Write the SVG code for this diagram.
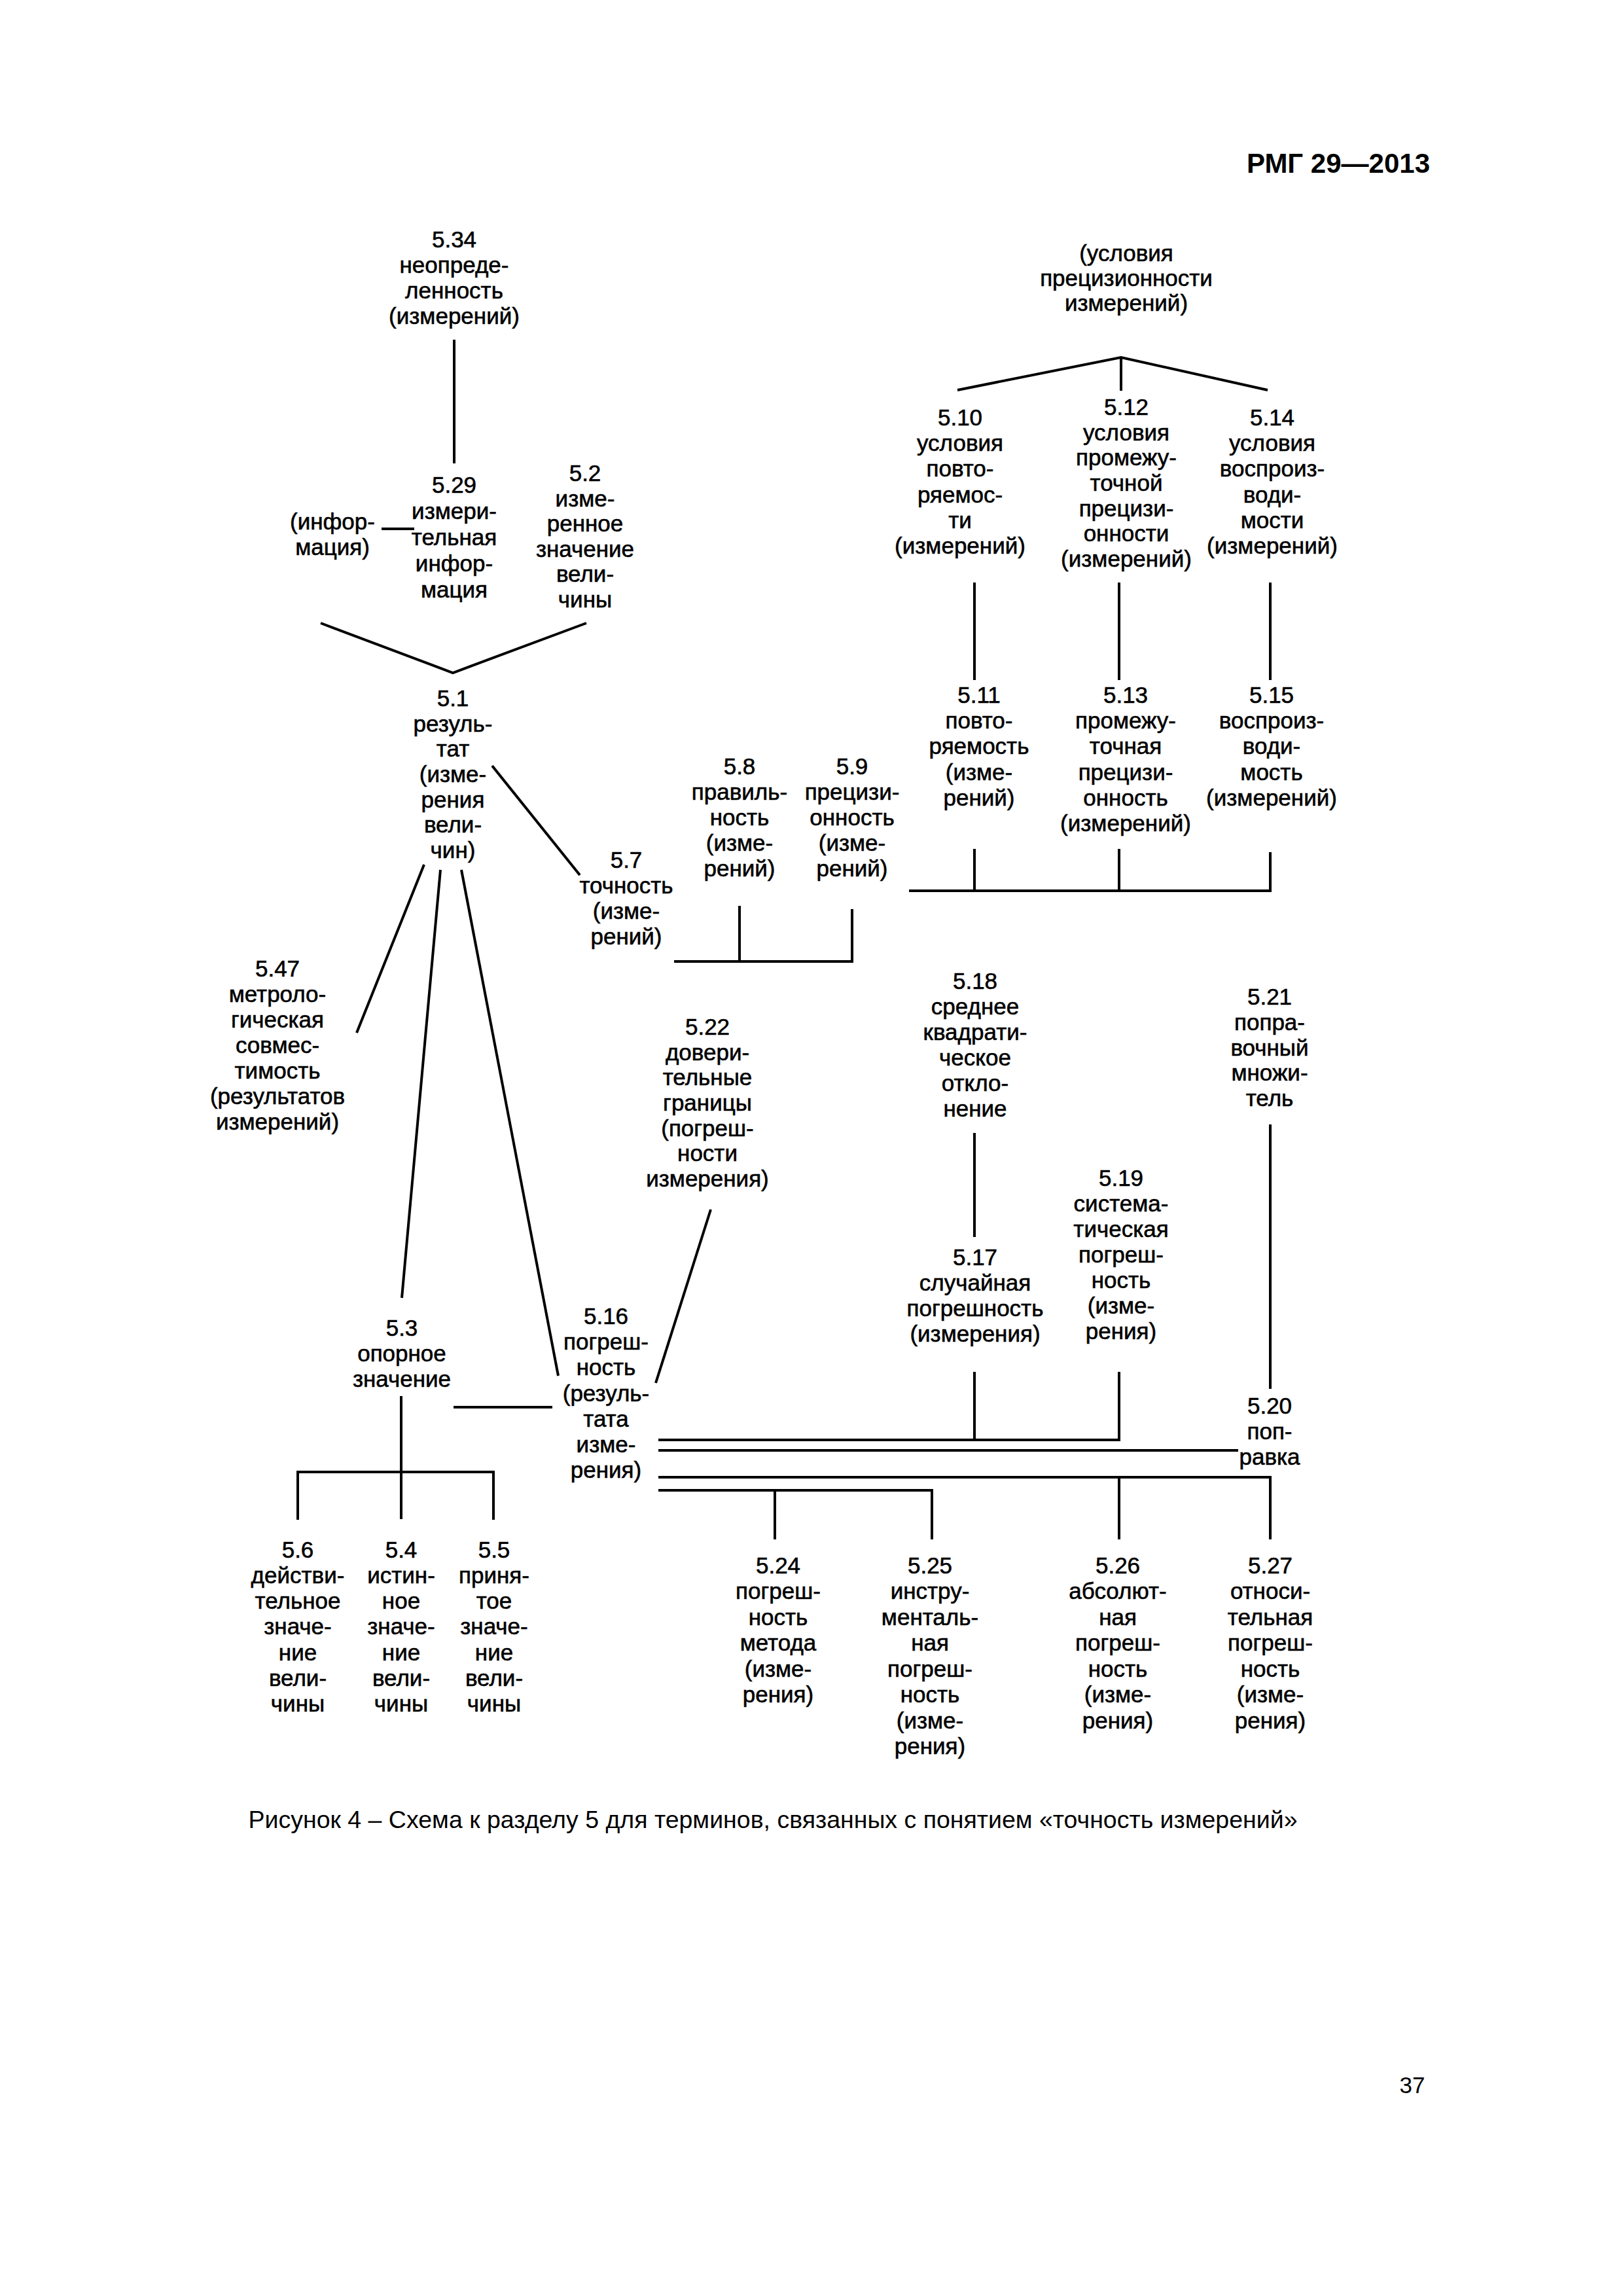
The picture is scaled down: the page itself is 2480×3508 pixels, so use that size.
<svg xmlns="http://www.w3.org/2000/svg" width="2480" height="3508" viewBox="0 0 2480 3508">
<style>
.t{font-family:"Liberation Sans",Arial,sans-serif;font-size:35px;text-anchor:middle;fill:#000;stroke:#000;stroke-width:0.6px}
.c{stroke:#000;stroke-width:4;fill:none;stroke-linecap:butt}
</style>
<rect width="2480" height="3508" fill="#fff"/>
<text class="t" x="2185" y="264" style="text-anchor:end;font-weight:bold;font-size:42px;stroke-width:0">РМГ 29—2013</text>

<g id="connectors">
<line class="c" x1="694" y1="519" x2="694" y2="708"/>
<line class="c" x1="583" y1="808" x2="633" y2="808"/>
<polyline class="c" points="490,952 692,1028 896,952"/>
<line class="c" x1="752" y1="1170" x2="886" y2="1337"/>
<line class="c" x1="648" y1="1321" x2="545" y2="1578"/>
<line class="c" x1="673" y1="1329" x2="614" y2="1983"/>
<line class="c" x1="705" y1="1329" x2="853" y2="2102"/>
<path class="c" d="M1030 1469 H1302 V1389 M1130 1384 V1469"/>
<path class="c" d="M1463 596 L1713 546 L1937 596 M1713 546 V597"/>
<line class="c" x1="1489" y1="890" x2="1489" y2="1039"/>
<line class="c" x1="1710" y1="890" x2="1710" y2="1039"/>
<line class="c" x1="1941" y1="890" x2="1941" y2="1039"/>
<path class="c" d="M1389 1361 H1941 V1302 M1489 1297 V1361 M1710 1297 V1361"/>
<line class="c" x1="1086" y1="1848" x2="1002" y2="2113"/>
<line class="c" x1="1489" y1="1731" x2="1489" y2="1890"/>
<line class="c" x1="1941" y1="1718" x2="1941" y2="2122"/>
<line class="c" x1="693" y1="2150" x2="844" y2="2150"/>
<path class="c" d="M613 2133 V2321 M455 2322 V2249 H754 V2322"/>
<path class="c" d="M1006 2200 H1710 V2096 M1489 2096 V2200"/>
<path class="c" d="M1006 2216 H1892"/>
<path class="c" d="M1006 2257 H1941 V2352 M1710 2257 V2352"/>
<path class="c" d="M1006 2277 H1424 V2352 M1184 2277 V2352"/>
</g>

<g id="n5_34"><text class="t"><tspan x="694" y="378">5.34</tspan><tspan x="694" y="417">неопреде-</tspan><tspan x="694" y="456">ленность</tspan><tspan x="694" y="495">(измерений)</tspan></text></g>
<g id="n5_29"><text class="t"><tspan x="694" y="753">5.29</tspan><tspan x="694" y="793">измери-</tspan><tspan x="694" y="833">тельная</tspan><tspan x="694" y="873">инфор-</tspan><tspan x="694" y="913">мация</tspan></text></g>
<g id="n_info"><text class="t"><tspan x="508" y="809">(инфор-</tspan><tspan x="508" y="848">мация)</tspan></text></g>
<g id="n5_2"><text class="t"><tspan x="894" y="735">5.2</tspan><tspan x="894" y="774">изме-</tspan><tspan x="894" y="812">ренное</tspan><tspan x="894" y="851">значение</tspan><tspan x="894" y="889">вели-</tspan><tspan x="894" y="928">чины</tspan></text></g>
<g id="n5_1"><text class="t"><tspan x="692" y="1079">5.1</tspan><tspan x="692" y="1118">резуль-</tspan><tspan x="692" y="1156">тат</tspan><tspan x="692" y="1195">(изме-</tspan><tspan x="692" y="1234">рения</tspan><tspan x="692" y="1272">вели-</tspan><tspan x="692" y="1311">чин)</tspan></text></g>
<g id="n5_7"><text class="t"><tspan x="957" y="1326">5.7</tspan><tspan x="957" y="1365">точность</tspan><tspan x="957" y="1404">(изме-</tspan><tspan x="957" y="1443">рений)</tspan></text></g>
<g id="n5_8"><text class="t"><tspan x="1130" y="1183">5.8</tspan><tspan x="1130" y="1222">правиль-</tspan><tspan x="1130" y="1261">ность</tspan><tspan x="1130" y="1300">(изме-</tspan><tspan x="1130" y="1339">рений)</tspan></text></g>
<g id="n5_9"><text class="t"><tspan x="1302" y="1183">5.9</tspan><tspan x="1302" y="1222">прецизи-</tspan><tspan x="1302" y="1261">онность</tspan><tspan x="1302" y="1300">(изме-</tspan><tspan x="1302" y="1339">рений)</tspan></text></g>
<g id="n_prec"><text class="t"><tspan x="1721" y="399">(условия</tspan><tspan x="1721" y="437">прецизионности</tspan><tspan x="1721" y="475">измерений)</tspan></text></g>
<g id="n5_10"><text class="t"><tspan x="1467" y="650">5.10</tspan><tspan x="1467" y="689">условия</tspan><tspan x="1467" y="728">повто-</tspan><tspan x="1467" y="768">ряемос-</tspan><tspan x="1467" y="807">ти</tspan><tspan x="1467" y="846">(измерений)</tspan></text></g>
<g id="n5_12"><text class="t"><tspan x="1721" y="634">5.12</tspan><tspan x="1721" y="673">условия</tspan><tspan x="1721" y="711">промежу-</tspan><tspan x="1721" y="750">точной</tspan><tspan x="1721" y="789">прецизи-</tspan><tspan x="1721" y="827">онности</tspan><tspan x="1721" y="866">(измерений)</tspan></text></g>
<g id="n5_14"><text class="t"><tspan x="1944" y="650">5.14</tspan><tspan x="1944" y="689">условия</tspan><tspan x="1944" y="728">воспроиз-</tspan><tspan x="1944" y="768">води-</tspan><tspan x="1944" y="807">мости</tspan><tspan x="1944" y="846">(измерений)</tspan></text></g>
<g id="n5_11"><text class="t"><tspan x="1496" y="1074">5.11</tspan><tspan x="1496" y="1113">повто-</tspan><tspan x="1496" y="1152">ряемость</tspan><tspan x="1496" y="1192">(изме-</tspan><tspan x="1496" y="1231">рений)</tspan></text></g>
<g id="n5_13"><text class="t"><tspan x="1720" y="1074">5.13</tspan><tspan x="1720" y="1113">промежу-</tspan><tspan x="1720" y="1152">точная</tspan><tspan x="1720" y="1192">прецизи-</tspan><tspan x="1720" y="1231">онность</tspan><tspan x="1720" y="1270">(измерений)</tspan></text></g>
<g id="n5_15"><text class="t"><tspan x="1943" y="1074">5.15</tspan><tspan x="1943" y="1113">воспроиз-</tspan><tspan x="1943" y="1152">води-</tspan><tspan x="1943" y="1192">мость</tspan><tspan x="1943" y="1231">(измерений)</tspan></text></g>
<g id="n5_47"><text class="t"><tspan x="424" y="1492">5.47</tspan><tspan x="424" y="1531">метроло-</tspan><tspan x="424" y="1570">гическая</tspan><tspan x="424" y="1609">совмес-</tspan><tspan x="424" y="1648">тимость</tspan><tspan x="424" y="1687">(результатов</tspan><tspan x="424" y="1726">измерений)</tspan></text></g>
<g id="n5_22"><text class="t"><tspan x="1081" y="1581">5.22</tspan><tspan x="1081" y="1620">довери-</tspan><tspan x="1081" y="1658">тельные</tspan><tspan x="1081" y="1697">границы</tspan><tspan x="1081" y="1736">(погреш-</tspan><tspan x="1081" y="1774">ности</tspan><tspan x="1081" y="1813">измерения)</tspan></text></g>
<g id="n5_18"><text class="t"><tspan x="1490" y="1511">5.18</tspan><tspan x="1490" y="1550">среднее</tspan><tspan x="1490" y="1589">квадрати-</tspan><tspan x="1490" y="1628">ческое</tspan><tspan x="1490" y="1667">откло-</tspan><tspan x="1490" y="1706">нение</tspan></text></g>
<g id="n5_21"><text class="t"><tspan x="1940" y="1535">5.21</tspan><tspan x="1940" y="1574">попра-</tspan><tspan x="1940" y="1613">вочный</tspan><tspan x="1940" y="1651">множи-</tspan><tspan x="1940" y="1690">тель</tspan></text></g>
<g id="n5_19"><text class="t"><tspan x="1713" y="1812">5.19</tspan><tspan x="1713" y="1851">система-</tspan><tspan x="1713" y="1890">тическая</tspan><tspan x="1713" y="1929">погреш-</tspan><tspan x="1713" y="1968">ность</tspan><tspan x="1713" y="2007">(изме-</tspan><tspan x="1713" y="2046">рения)</tspan></text></g>
<g id="n5_17"><text class="t"><tspan x="1490" y="1933">5.17</tspan><tspan x="1490" y="1972">случайная</tspan><tspan x="1490" y="2011">погрешность</tspan><tspan x="1490" y="2050">(измерения)</tspan></text></g>
<g id="n5_3"><text class="t"><tspan x="614" y="2041">5.3</tspan><tspan x="614" y="2080">опорное</tspan><tspan x="614" y="2119">значение</tspan></text></g>
<g id="n5_16"><text class="t"><tspan x="926" y="2023">5.16</tspan><tspan x="926" y="2062">погреш-</tspan><tspan x="926" y="2101">ность</tspan><tspan x="926" y="2141">(резуль-</tspan><tspan x="926" y="2180">тата</tspan><tspan x="926" y="2219">изме-</tspan><tspan x="926" y="2258">рения)</tspan></text></g>
<g id="n5_20"><text class="t"><tspan x="1940" y="2160">5.20</tspan><tspan x="1940" y="2199">поп-</tspan><tspan x="1940" y="2238">равка</tspan></text></g>
<g id="n5_6"><text class="t"><tspan x="455" y="2380">5.6</tspan><tspan x="455" y="2419">действи-</tspan><tspan x="455" y="2458">тельное</tspan><tspan x="455" y="2497">значе-</tspan><tspan x="455" y="2537">ние</tspan><tspan x="455" y="2576">вели-</tspan><tspan x="455" y="2615">чины</tspan></text></g>
<g id="n5_4"><text class="t"><tspan x="613" y="2380">5.4</tspan><tspan x="613" y="2419">истин-</tspan><tspan x="613" y="2458">ное</tspan><tspan x="613" y="2497">значе-</tspan><tspan x="613" y="2537">ние</tspan><tspan x="613" y="2576">вели-</tspan><tspan x="613" y="2615">чины</tspan></text></g>
<g id="n5_5"><text class="t"><tspan x="755" y="2380">5.5</tspan><tspan x="755" y="2419">приня-</tspan><tspan x="755" y="2458">тое</tspan><tspan x="755" y="2497">значе-</tspan><tspan x="755" y="2537">ние</tspan><tspan x="755" y="2576">вели-</tspan><tspan x="755" y="2615">чины</tspan></text></g>
<g id="n5_24"><text class="t"><tspan x="1189" y="2404">5.24</tspan><tspan x="1189" y="2443">погреш-</tspan><tspan x="1189" y="2483">ность</tspan><tspan x="1189" y="2522">метода</tspan><tspan x="1189" y="2562">(изме-</tspan><tspan x="1189" y="2601">рения)</tspan></text></g>
<g id="n5_25"><text class="t"><tspan x="1421" y="2404">5.25</tspan><tspan x="1421" y="2443">инстру-</tspan><tspan x="1421" y="2483">менталь-</tspan><tspan x="1421" y="2522">ная</tspan><tspan x="1421" y="2562">погреш-</tspan><tspan x="1421" y="2601">ность</tspan><tspan x="1421" y="2641">(изме-</tspan><tspan x="1421" y="2680">рения)</tspan></text></g>
<g id="n5_26"><text class="t"><tspan x="1708" y="2404">5.26</tspan><tspan x="1708" y="2443">абсолют-</tspan><tspan x="1708" y="2483">ная</tspan><tspan x="1708" y="2522">погреш-</tspan><tspan x="1708" y="2562">ность</tspan><tspan x="1708" y="2601">(изме-</tspan><tspan x="1708" y="2641">рения)</tspan></text></g>
<g id="n5_27"><text class="t"><tspan x="1941" y="2404">5.27</tspan><tspan x="1941" y="2443">относи-</tspan><tspan x="1941" y="2483">тельная</tspan><tspan x="1941" y="2522">погреш-</tspan><tspan x="1941" y="2562">ность</tspan><tspan x="1941" y="2601">(изме-</tspan><tspan x="1941" y="2641">рения)</tspan></text></g>

<text class="t" x="1181" y="2793" textLength="1603" lengthAdjust="spacingAndGlyphs" style="font-size:36px;stroke-width:0">Рисунок 4 – Схема к разделу 5 для терминов, связанных с понятием «точность измерений»</text>
<text class="t" x="2158" y="3198" style="stroke-width:0">37</text>
</svg>
